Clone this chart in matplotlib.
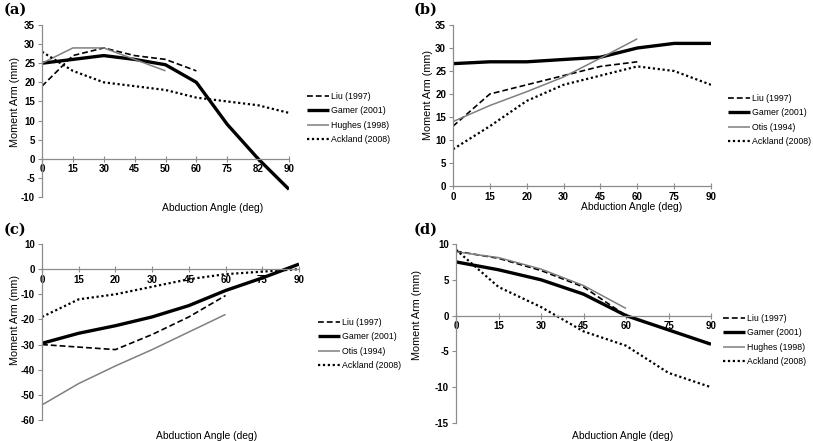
import matplotlib.pyplot as plt

plt.rcParams['font.family'] = ['Liberation Sans', 'DejaVu Sans']
plt.rcParams['axes.unicode_minus'] = False

W, H = 813, 441

# panel (a)
a_angles = ["0", "15", "30", "45", "50", "60", "75", "82", "90"]
a_liu = [19, 27, 29, 27, 26, 23]
a_garner = [25, 26, 27, 26, 24.6, 20, 9, 0, -8]
a_hughes = [25, 29, 29, 26, 23]
a_ackland = [28, 23, 20, 19, 18, 16, 15, 14, 12]

# panel (b)
b_angles = ["0", "15", "20", "30", "45", "60", "75", "90"]
b_liu = [13, 20, 22, 24, 26, 27]
b_garner = [26.6, 27, 27, 27.5, 28, 30, 31, 31]
b_otis = [14, 17.5, 20.5, 23.7, 27.8, 32]
b_ackland = [8, 13, 18.5, 22, 24, 26, 25, 22]

# panel (c)
c_angles = ["0", "15", "20", "30", "45", "60", "75", "90"]
c_liu = [-30, -31, -32, -26, -19, -10.5]
c_garner = [-29.5, -25.5, -22.5, -19, -14.5, -8.5, -3.5, 2]
c_otis = [-54, -45.5, -38.5, -32, -25, -18]
c_ackland = [-19, -12, -10, -7, -4, -2, -1, 0]

# panel (d)
d_angles = ["0", "15", "30", "45", "60", "75", "90"]
d_liu = [9, 8, 6.3, 4, 0]
d_garner = [7.5, 6.4, 5, 3, 0, -2, -4]
d_hughes = [8.9, 8.1, 6.5, 4.2, 1]
d_ackland = [9.2, 4, 1.2, -2.2, -4.2, -8, -10]

AXIS_GREY = "#8c8c8c"

fig = plt.figure(figsize=(W / 100, H / 100), dpi=100)


def fx(x):
    return x / W


def fy(y):
    return 1 - y / H


def make_panel(box, angles, series, ylim, ystep, tag, tag_xy, ylab_xy, xlab_xy, leg_xy):
    left, top, right, bottom = box
    ax = fig.add_axes([fx(left), fy(bottom), fx(right - left), (bottom - top) / H])

    styles = [
        dict(color="black", lw=1.2, ls=(0, (3.5, 1.8))),
        dict(color="black", lw=2.4, ls="-"),
        dict(color="#7f7f7f", lw=1.1, ls="-"),
        dict(color="black", lw=1.6, ls=(0, (1, 1.2))),
    ]
    for (name, vals), st in zip(series, styles):
        ax.plot(angles[:len(vals)], vals, label=name, solid_capstyle="butt", **st)

    ax.set_xlim(0, len(angles) - 1)
    ax.set_ylim(*ylim)
    ax.set_yticks(range(ylim[0], ylim[1] + 1, ystep))

    for s in ["top", "right"]:
        ax.spines[s].set_visible(False)
    ax.spines["bottom"].set_position(("data", 0))
    for s in ["left", "bottom"]:
        ax.spines[s].set_color(AXIS_GREY)
        ax.spines[s].set_linewidth(0.9)

    ax.tick_params(axis="x", direction="inout", length=4, width=0.8,
                   color=AXIS_GREY, labelsize=7, pad=2)
    ax.tick_params(axis="y", direction="out", length=3, width=0.8,
                   color=AXIS_GREY, labelsize=7, pad=2)
    for lbl in ax.get_xticklabels() + ax.get_yticklabels():
        lbl.set_fontweight("bold")

    fig.text(fx(tag_xy[0]), fy(tag_xy[1]), tag, family="DejaVu Serif",
             fontweight="bold", fontsize=10.5, ha="left", va="center")
    fig.text(fx(ylab_xy[0]), fy(ylab_xy[1]), "Moment Arm (mm)", rotation=90,
             fontsize=7.8, ha="center", va="center")
    fig.text(fx(xlab_xy[0]), fy(xlab_xy[1]), "Abduction Angle (deg)",
             fontsize=7.4, ha="center", va="center")

    ax.legend(loc="center left", bbox_to_anchor=(fx(leg_xy[0]), fy(leg_xy[1])),
              bbox_transform=fig.transFigure, frameon=False, fontsize=6.3,
              handlelength=2.5, handletextpad=0.2, labelspacing=0.6,
              borderpad=0, borderaxespad=0)
    return ax


make_panel((42, 25, 289, 197), a_angles,
           [("Liu (1997)", a_liu), ("Gamer (2001)", a_garner),
            ("Hughes (1998)", a_hughes), ("Ackland (2008)", a_ackland)],
           (-10, 35), 5, "(a)", (4, 10), (15, 102), (213, 208), (307, 118))

make_panel((453, 25, 711, 186), b_angles,
           [("Liu (1997)", b_liu), ("Gamer (2001)", b_garner),
            ("Otis (1994)", b_otis), ("Ackland (2008)", b_ackland)],
           (0, 35), 5, "(b)", (414, 10), (428, 95), (632, 207), (728, 120))

make_panel((42, 244, 299, 420), c_angles,
           [("Liu (1997)", c_liu), ("Gamer (2001)", c_garner),
            ("Otis (1994)", c_otis), ("Ackland (2008)", c_ackland)],
           (-60, 10), 10, "(c)", (4, 230), (15, 320), (207, 436), (318, 344))

make_panel((456, 244, 711, 423), d_angles,
           [("Liu (1997)", d_liu), ("Gamer (2001)", d_garner),
            ("Hughes (1998)", d_hughes), ("Ackland (2008)", d_ackland)],
           (-15, 10), 5, "(d)", (414, 230), (417, 315), (623, 436), (723, 340))

fig.savefig("out.png", dpi=100)
